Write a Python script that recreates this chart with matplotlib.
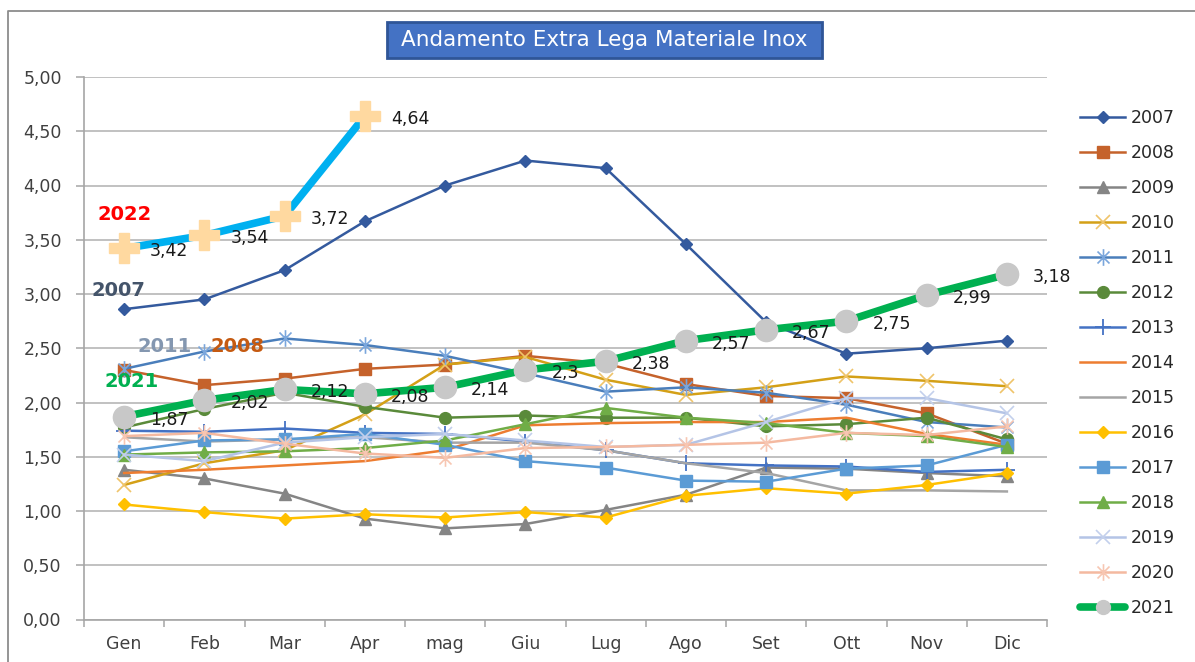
import matplotlib
matplotlib.use("Agg")
import matplotlib.pyplot as plt
from matplotlib.path import Path
from matplotlib.patches import Rectangle
from matplotlib.lines import Line2D
from matplotlib.ticker import FuncFormatter, FixedLocator

plt.rcParams['font.family'] = ['DejaVu Sans']

months = ["Gen", "Feb", "Mar", "Apr", "mag", "Giu", "Lug", "Ago", "Set", "Ott", "Nov", "Dic"]

y2007 = [2.86, 2.95, 3.22, 3.67, 4.00, 4.23, 4.16, 3.46, 2.74, 2.45, 2.50, 2.57]
y2008 = [2.30, 2.16, 2.22, 2.31, 2.35, 2.43, 2.36, 2.17, 2.06, 2.04, 1.90, 1.62]
y2009 = [1.38, 1.30, 1.16, 0.93, 0.84, 0.88, 1.01, 1.15, 1.40, 1.39, 1.35, 1.32]
y2010 = [1.24, 1.44, 1.56, 1.89, 2.35, 2.42, 2.21, 2.07, 2.14, 2.24, 2.20, 2.15]
y2011 = [2.31, 2.47, 2.59, 2.53, 2.43, 2.27, 2.10, 2.14, 2.09, 1.98, 1.82, 1.77]
y2012 = [1.77, 1.94, 2.09, 1.96, 1.86, 1.88, 1.86, 1.86, 1.78, 1.80, 1.86, 1.66]
y2013 = [1.74, 1.73, 1.76, 1.72, 1.71, 1.64, 1.56, 1.44, 1.42, 1.41, 1.36, 1.38]
y2014 = [1.35, 1.38, 1.42, 1.46, 1.56, 1.79, 1.81, 1.82, 1.82, 1.86, 1.71, 1.61]
y2015 = [1.68, 1.64, 1.66, 1.68, 1.63, 1.63, 1.56, 1.44, 1.35, 1.19, 1.19, 1.18]
y2016 = [1.06, 0.99, 0.93, 0.97, 0.94, 0.99, 0.94, 1.14, 1.21, 1.16, 1.24, 1.35]
y2017 = [1.55, 1.65, 1.66, 1.71, 1.61, 1.46, 1.40, 1.28, 1.27, 1.39, 1.42, 1.61]
y2018 = [1.52, 1.54, 1.55, 1.58, 1.65, 1.80, 1.95, 1.86, 1.81, 1.72, 1.69, 1.59]
y2019 = [1.52, 1.46, 1.63, 1.68, 1.71, 1.65, 1.59, 1.61, 1.82, 2.04, 2.04, 1.90]
y2020 = [1.69, 1.72, 1.62, 1.53, 1.49, 1.58, 1.59, 1.61, 1.63, 1.72, 1.70, 1.78]
y2021 = [1.87, 2.02, 2.12, 2.08, 2.14, 2.3, 2.38, 2.57, 2.67, 2.75, 2.99, 3.18]
y2022 = [3.42, 3.54, 3.72, 4.64]

yticks = [0, 0.5, 1.0, 1.5, 2.0, 2.5, 3.0, 3.5, 4.0, 4.5, 5.0]
title = "Andamento Extra Lega Materiale Inox"

# annotation words placed on the chart
year_tags = ["2022", "2007", "2011", "2008", "2021"]
tag_x = [0.01, -0.07, 0.5, 1.41, 0.09]
tag_y = [3.73, 3.03, 2.52, 2.52, 2.19]
tag_colors = ["#FF0000", "#44546A", "#8497B0", "#C55A11", "#00B050"]

asterisk = Path([(0, -1), (0, 1), (-0.72, -0.72), (0.72, 0.72), (-0.72, 0.72), (0.72, -0.72)],
                [Path.MOVETO, Path.LINETO] * 3)

W, H = 1195, 662
fig = plt.figure(figsize=(W / 100, H / 100), dpi=100)
fig.patch.set_facecolor("white")
ax = fig.add_axes([84 / W, 1 - 619.5 / H, (1047 - 84) / W, (619.5 - 77) / H])

x = list(range(len(months)))
styles = [
    ("2007", y2007, dict(color="#345A9E", marker="D", ms=6.5, mfc="#345A9E", mec="#345A9E")),
    ("2008", y2008, dict(color="#C5622B", marker="s", ms=8.5, mfc="#C5622B", mec="#C5622B")),
    ("2009", y2009, dict(color="#858585", marker="^", ms=9, mfc="#858585", mec="#858585")),
    ("2010", y2010, dict(color="#D4A017", marker="x", ms=10, mec="#EFC46A", mew=1.2)),
    ("2011", y2011, dict(color="#4A7EBB", marker=asterisk, ms=12, mec="#7AA6DC", mew=1.2)),
    ("2012", y2012, dict(color="#5A8A3A", marker="o", ms=8.5, mfc="#5A8A3A", mec="#5A8A3A")),
    ("2013", y2013, dict(color="#4472C4", marker="+", ms=12, mec="#4472C4", mew=1.3)),
    ("2014", y2014, dict(color="#ED7D31")),
    ("2015", y2015, dict(color="#A5A5A5")),
    ("2016", y2016, dict(color="#FFC000", marker="D", ms=6.5, mfc="#FFC000", mec="#FFC000")),
    ("2017", y2017, dict(color="#5B9BD5", marker="s", ms=8.5, mfc="#5B9BD5", mec="#5B9BD5")),
    ("2018", y2018, dict(color="#70AD47", marker="^", ms=9, mfc="#70AD47", mec="#70AD47")),
    ("2019", y2019, dict(color="#B4C4E6", marker="x", ms=10, mec="#C3D0EC", mew=1.2)),
    ("2020", y2020, dict(color="#F4B9A0", marker=asterisk, ms=12, mec="#F7C6B2", mew=1.2)),
]
for lab, ys, kw in styles:
    ax.plot(x, ys, lw=1.8, label=lab, zorder=3, **kw)

ax.plot(x, y2021, color="#00B050", lw=5.5, marker="o", ms=16, mfc="#C8C8C8", mec="#C8C8C8",
        label="2021", zorder=5, solid_capstyle="round")
ax.plot(x[:len(y2022)], y2022, color="#00B0F0", lw=5.5, marker="P", ms=22, mfc="#FFD9A0",
        mec="#FFD9A0", label="_nolegend_", zorder=6)


def fmt_val(v):
    return f"{v:g}".replace(".", ",")


for xi, v in zip(x, y2021):
    ax.annotate(fmt_val(v), (xi, v), xytext=(26, -3), textcoords="offset pixels",
                ha="left", va="center", fontsize=12.5, color="#1a1a1a", zorder=7)
for xi, v in zip(x, y2022):
    ax.annotate(fmt_val(v), (xi, v), xytext=(26, -3), textcoords="offset pixels",
                ha="left", va="center", fontsize=12.5, color="#1a1a1a", zorder=7)

for t, tx, ty, c in zip(year_tags, tag_x, tag_y, tag_colors):
    ax.text(tx, ty, t, color=c, fontsize=14, fontweight="bold", ha="center", va="center", zorder=8)

ax.set_xlim(-0.5, 11.5)
ax.set_ylim(0, 5)
ax.set_yticks(yticks)
ax.yaxis.set_major_formatter(FuncFormatter(lambda v, p: f"{v:.2f}".replace(".", ",")))
ax.set_xticks(x)
ax.set_xticklabels(months)
ax.xaxis.set_minor_locator(FixedLocator([i - 0.5 for i in range(13)]))
ax.tick_params(axis="x", which="major", length=0, pad=11, labelsize=12.5, labelcolor="#404040")
ax.tick_params(axis="x", which="minor", length=5, color="#A6A6A6", width=1.1)
ax.tick_params(axis="y", length=6, color="#A6A6A6", width=1.1, pad=10, labelsize=12.5,
               labelcolor="#404040")

ax.grid(axis="y", color="#B0B0B0", lw=1.1)
ax.set_axisbelow(True)
for s in ["top", "right"]:
    ax.spines[s].set_visible(False)
for s in ["left", "bottom"]:
    ax.spines[s].set_color("#A6A6A6")
    ax.spines[s].set_linewidth(1.2)

leg = ax.legend(loc="upper left", bbox_to_anchor=(1080 / W, 1 - 109 / H),
                bbox_transform=fig.transFigure, frameon=False, fontsize=12.5,
                handlelength=2.6, handletextpad=0.3, labelspacing=0.98, borderpad=0,
                borderaxespad=0)
for t in leg.get_texts():
    t.set_color("#262626")
leg.legend_handles[-1].set_markersize(10)

# title box
fig.add_artist(Rectangle((387 / W, 1 - 58 / H), 435 / W, 36 / H, transform=fig.transFigure,
                         facecolor="#4472C4", edgecolor="#2F5597", lw=2))
fig.text(604.5 / W, 1 - 40.5 / H, title, color="white", fontsize=15.5, ha="center", va="center")

# chart area border (left and top)
fig.add_artist(Line2D([8 / W, 8 / W, 1], [0, 1 - 11 / H, 1 - 11 / H], transform=fig.transFigure,
                      color="#8C8C8C", lw=1.3))

fig.savefig("out.png", dpi=100)
